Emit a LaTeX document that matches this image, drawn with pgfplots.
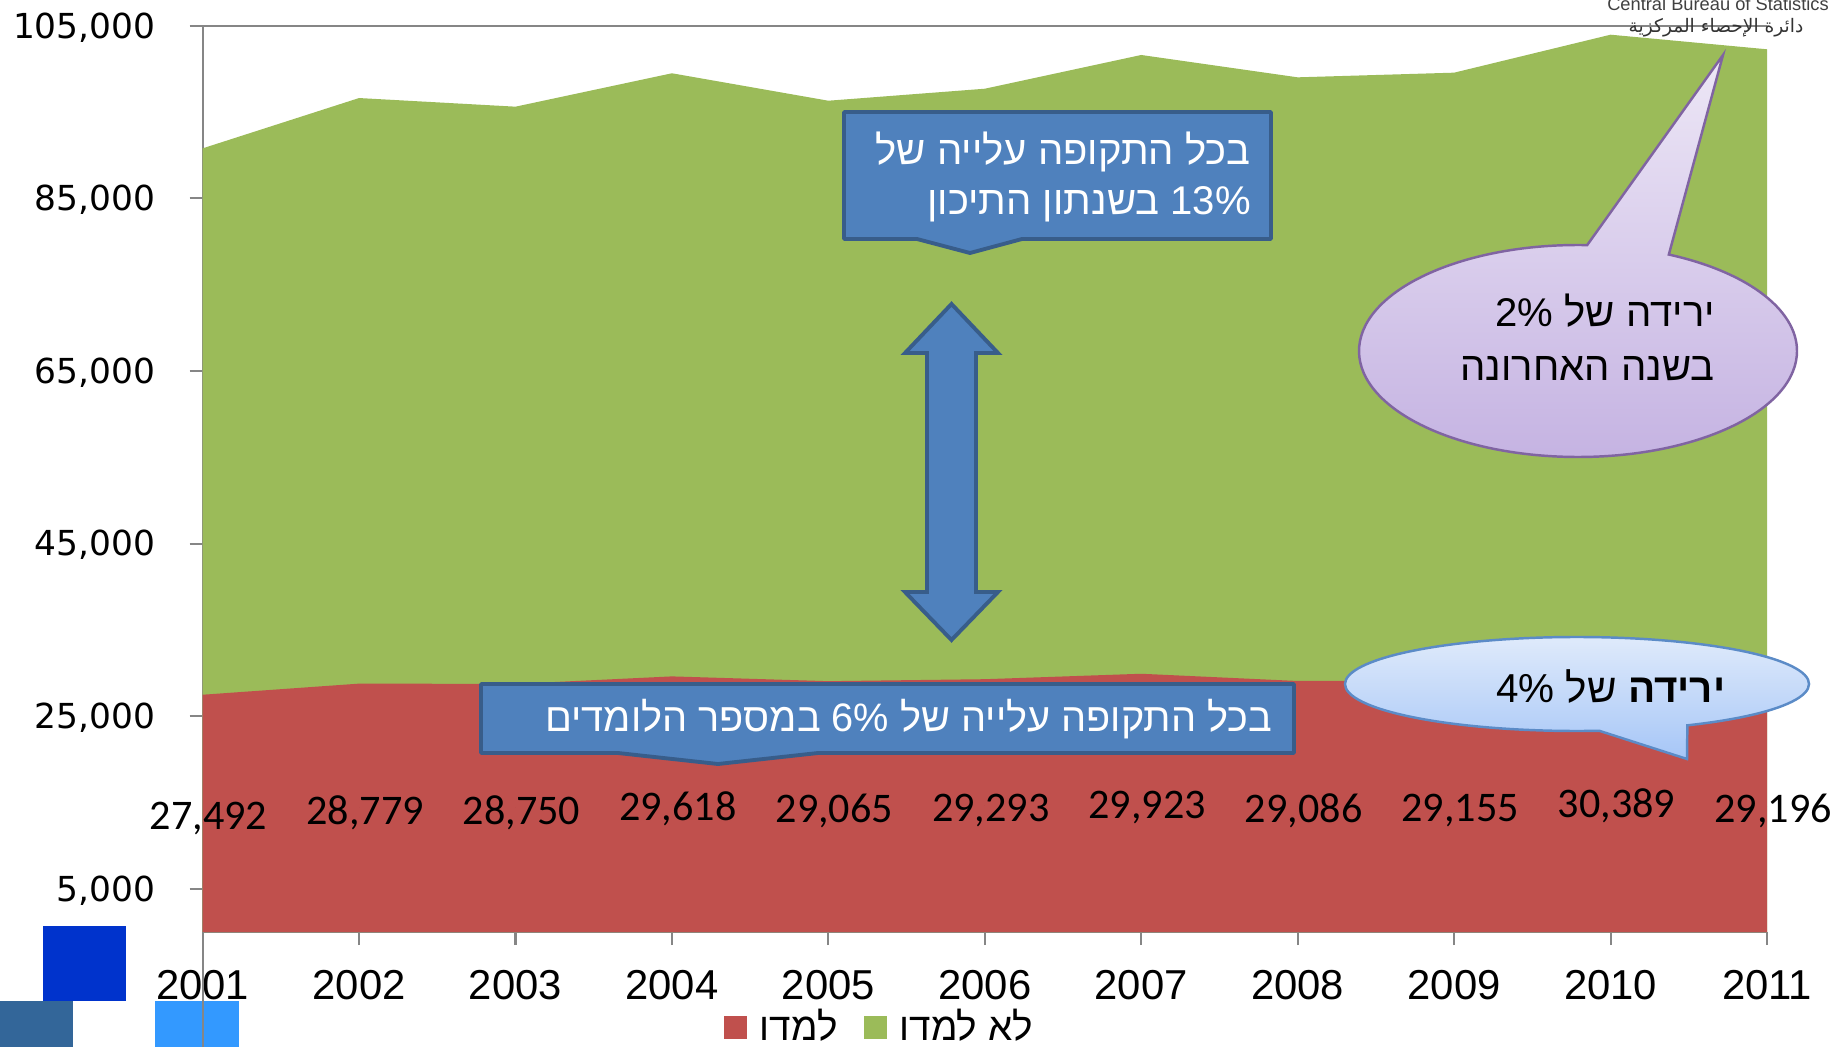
\documentclass[border=0pt]{standalone}
\usepackage{fontspec}
\setmainfont{Liberation Sans}
\newfontfamily\heb[Script=Hebrew]{Liberation Sans}
\newfontfamily\dejavu{DejaVu Sans}
\newfontfamily\carlito{Carlito}
\newfontfamily\arabicfont[Script=Arabic]{DejaVu Sans}
\usepackage{pgfplots}
\pgfplotsset{compat=1.18}
\usepackage{pgfplotstable}
\TeXXeTstate=1

\definecolor{cred}{HTML}{C0504D}
\definecolor{cgreen}{HTML}{9BBB59}
\definecolor{cblue}{HTML}{4F81BD}
\definecolor{cblueb}{HTML}{385D8A}
\definecolor{caxis}{HTML}{868686}
\definecolor{lavtop}{HTML}{EDE7F6}
\definecolor{lavbot}{HTML}{C5B3E2}
\definecolor{lavb}{HTML}{8064A2}
\definecolor{lbtop}{HTML}{E2ECFB}
\definecolor{lbbot}{HTML}{A6C6F7}
\definecolor{lbb}{HTML}{5B8BC7}
\definecolor{sqdark}{HTML}{0033CC}
\definecolor{sqsteel}{HTML}{336699}
\definecolor{sqlight}{HTML}{3399FF}

\pgfplotstableread{
year red total lab
2001 27492 90800 27,492
2002 28779 96630 28,779
2003 28750 95630 28,750
2004 29618 99500 29,618
2005 29065 96320 29,065
2006 29293 97710 29,293
2007 29923 101620 29,923
2008 29086 99030 29,086
2009 29155 99570 29,155
2010 30389 103970 30,389
2011 29196 102280 29,196
}\datatable

\begin{document}
\begin{tikzpicture}
\useasboundingbox (0,0) rectangle (183.6mm,104.7mm);
% decorative squares
\fill[sqdark] (4.3mm,4.6mm) rectangle (12.6mm,12.1mm);
\fill[sqsteel] (0mm,0mm) rectangle (7.3mm,4.6mm);
\fill[sqlight] (15.5mm,0mm) rectangle (23.9mm,4.6mm);

\begin{axis}[
  at={(20.26mm,11.5mm)}, anchor=south west,
  width=156.44mm, height=90.62mm, scale only axis,
  xmin=2001, xmax=2011, ymin=0, ymax=105000,
  axis x line*=bottom, axis y line*=left,
  axis line style={caxis, line width=0.6pt},
  tick style={caxis, line width=0.6pt},
  tick align=outside, major tick length=1.3mm,
  xtick={2001,2002,2003,2004,2005,2006,2007,2008,2009,2010,2011},
  xticklabels={2001,2002,2003,2004,2005,2006,2007,2008,2009,2010,2011},
  ytick={5000,25000,45000,65000,85000,105000},
  yticklabels={{5,000},{25,000},{45,000},{65,000},{85,000},{105,000}},
  yticklabel style={font=\dejavu\fontsize{9.8}{11}\selectfont, inner sep=0pt, xshift=-3.35mm, yshift=-0.15mm},
  xticklabel style={font=\fontsize{11.9}{14}\selectfont, yshift=-1.25mm},
  ymajorgrids, grid style={caxis, line width=0.6pt},
  clip=false,
  reverse legend, legend columns=2,
  legend image code/.code={\fill[#1] (0mm,-1.15mm) rectangle (2.3mm,1.15mm);},
  legend style={draw=none, fill=none, at={(0.3327,-0.1054)}, anchor=west,
    inner sep=0pt, font=\heb\fontsize{11}{13}\selectfont,
    /tikz/every odd column/.append style={column sep=0.6mm},
    /tikz/every even column/.append style={column sep=1.9mm}},
]
\addplot[fill=cgreen, draw=none] table[x=year, y=total]{\datatable} \closedcycle;
\addlegendentry{\beginR לא למדו\endR}
\addplot[fill=cred, draw=none] table[x=year, y=red]{\datatable} \closedcycle;
\addlegendentry{\beginR למדו\endR}
\addplot[forget plot, only marks, mark=*, mark size=0pt, mark options={draw=none, fill=none},
  nodes near coords, point meta=explicit symbolic,
  nodes near coords style={anchor=center, text=black, xshift=0.6mm, yshift=-0.47mm,
    font=\carlito\fontsize{12}{14}\selectfont}]
  table[x=year, y expr=\thisrow{red}/2, meta=lab]{\datatable};
\end{axis}

% axis line extension
\draw[caxis, line width=0.6pt] (20.26mm,0mm) -- (20.26mm,11.5mm);

% callout 1
\draw[fill=cblue, draw=cblueb, line width=1.1pt, line join=round]
  (84.4mm,93.5mm) -- (127.1mm,93.5mm) -- (127.1mm,80.8mm) -- (102.2mm,80.8mm)
  -- (97.0mm,79.4mm) -- (91.7mm,80.8mm) -- (84.4mm,80.8mm) -- cycle;
\node[anchor=east, text=white, font=\heb\fontsize{11.4}{14.2}\selectfont, align=right, inner sep=0pt]
  at (125.15mm,87.0mm) {\beginR בכל התקופה עלייה של\endR\\\beginR\beginL 13\%\endL{} בשנתון התיכון\endR};

% double arrow
\draw[fill=cblue, draw=cblueb, line width=1.1pt]
  (95.15mm,74.3mm) -- (99.8mm,69.4mm) -- (97.6mm,69.4mm) -- (97.6mm,45.5mm)
  -- (99.8mm,45.5mm) -- (95.15mm,40.7mm) -- (90.5mm,45.5mm) -- (92.7mm,45.5mm)
  -- (92.7mm,69.4mm) -- (90.5mm,69.4mm) -- cycle;

% callout 2
\draw[fill=cblue, draw=cblueb, line width=1.1pt, line join=round]
  (48.1mm,36.3mm) -- (129.4mm,36.3mm) -- (129.4mm,29.4mm) -- (81.8mm,29.4mm)
  -- (71.8mm,28.3mm) -- (61.8mm,29.4mm) -- (48.1mm,29.4mm) -- cycle;
\node[anchor=east, text=white, font=\heb\fontsize{11.3}{14}\selectfont, inner sep=0pt]
  at (127.3mm,32.8mm) {\beginR בכל התקופה עלייה של \beginL 6\%\endL{} במספר הלומדים\endR};

% lavender callout
\draw[draw=lavb, line width=0.7pt, top color=lavtop, bottom color=lavbot]
  (157.8mm,69.6mm) ++(87.6:21.9mm and 10.6mm)
  arc[start angle=87.6, end angle=425.5, x radius=21.9mm, y radius=10.6mm]
  -- (172.3mm,99.2mm) -- cycle;
\node[anchor=east, text=black, font=\heb\fontsize{11.4}{15.3}\selectfont, align=right, inner sep=0pt]
  at (171.55mm,70.95mm) {\beginR ירידה של \beginL 2\%\endL\endR\\\beginR בשנה האחרונה\endR};

% light blue callout
\draw[draw=lbb, line width=0.7pt, top color=lbtop, bottom color=lbbot]
  (157.7mm,36.3mm) ++(-61.6:23.2mm and 4.7mm)
  arc[start angle=-61.6, end angle=275.5, x radius=23.2mm, y radius=4.7mm]
  -- (168.7mm,28.8mm) -- cycle;
\node[anchor=east, text=black, font=\heb\fontsize{11.5}{15}\selectfont, inner sep=0pt]
  at (172.6mm,36.0mm) {\beginR\textbf{ירידה} של \beginL 4\%\endL\endR};

% logo
\node[font=\fontsize{5.2}{6}\selectfont, text=black!75] at (171.8mm,104.3mm) {Central Bureau of Statistics};
\node[font=\arabicfont\fontsize{5.3}{6}\selectfont, text=black!80] at (171.6mm,101.9mm) {\beginR دائرة الإحصاء المركزية\endR};
\end{tikzpicture}
\end{document}
